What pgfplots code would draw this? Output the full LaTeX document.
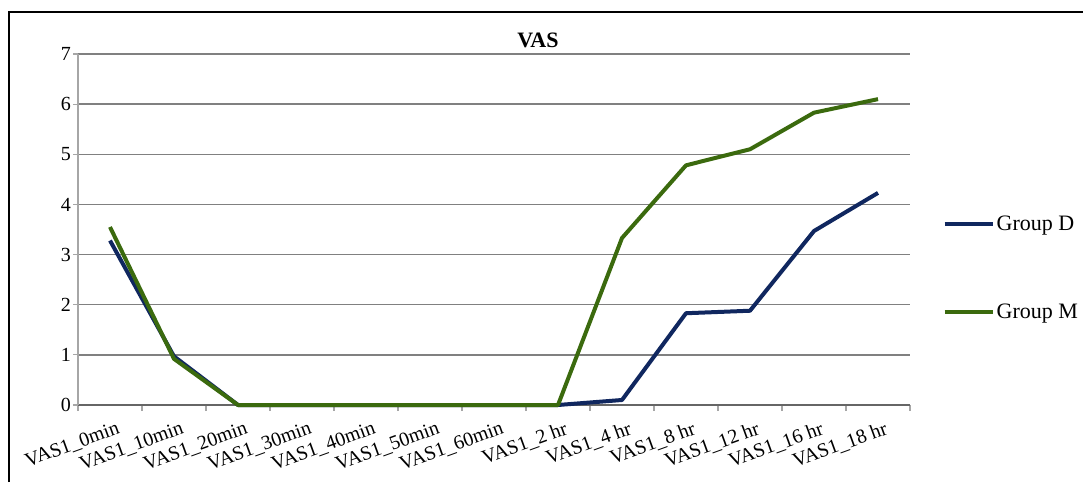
\documentclass[border=0pt]{standalone}
\usepackage{fontspec}
\setmainfont{Liberation Serif}
\usepackage{pgfplots}
\pgfplotsset{compat=1.18}
\definecolor{groupD}{HTML}{10275F}
\definecolor{groupM}{HTML}{3B6A0E}
\begin{document}
\begin{tikzpicture}
\path[use as bounding box] (0pt,0pt) rectangle (1083pt,482pt);
\draw[line width=1.5pt] (9pt,0pt) -- (9pt,470pt) -- (1083pt,470pt);
\node[font=\fontsize{22}{26}\selectfont\bfseries] at (538pt,442pt) {VAS};
\begin{axis}[
    at={(78pt,77pt)}, anchor=south west,
    scale only axis,
    width=832pt, height=351pt,
    xmin=-0.5, xmax=12.5,
    ymin=0, ymax=7,
    clip=false,
    axis x line*=bottom, axis y line*=left,
    x axis line style={-, draw=black!60, line width=1.5pt},
    y axis line style={-, draw=black!35, line width=1.5pt},
    xtick={0,...,12},
    xticklabels={VAS1\_0min, VAS1\_10min, VAS1\_20min, VAS1\_30min, VAS1\_40min, VAS1\_50min, VAS1\_60min, VAS1\_2 hr, VAS1\_4 hr, VAS1\_8 hr, VAS1\_12 hr, VAS1\_16 hr, VAS1\_18 hr},
    major x tick style={draw=none},
    minor xtick={-0.5,0.5,...,12.5},
    minor x tick style={draw=black!35, line width=1.5pt},
    minor tick length=6pt,
    ytick={0,...,7},
    y tick style={draw=black!35, line width=1.2pt},
    major tick length=5pt,
    tick align=outside,
    ymajorgrids=true,
    major grid style={black!50, line width=1.4pt},
    /pgf/number format/assume math mode=true,
    ticklabel style={font=\fontsize{20}{24}\selectfont, text=black},
    yticklabel style={inner sep=2pt},
    xticklabel style={rotate=20, anchor=north east, inner sep=1pt, yshift=-11pt, xshift=3pt},
    legend style={at={(1.039,0.545)}, anchor=north west, draw=none, fill=none,
        font=\fontsize{22}{26}\selectfont, row sep=68pt, inner sep=0pt},
    legend cell align=left,
    legend image code/.code={\draw[#1, line width=4pt] (0pt,0pt) -- (48pt,0pt);},
]
\addplot[groupD, line width=4pt, line join=round] coordinates {
    (0,3.28) (1,0.97) (2,0) (3,0) (4,0) (5,0) (6,0) (7,0)
    (8,0.10) (9,1.83) (10,1.88) (11,3.47) (12,4.23)
};
\addlegendentry{Group D}
\addplot[groupM, line width=4pt, line join=round] coordinates {
    (0,3.55) (1,0.92) (2,0) (3,0) (4,0) (5,0) (6,0) (7,0)
    (8,3.33) (9,4.78) (10,5.10) (11,5.83) (12,6.10)
};
\addlegendentry{Group M}
\end{axis}
\end{tikzpicture}
\end{document}
